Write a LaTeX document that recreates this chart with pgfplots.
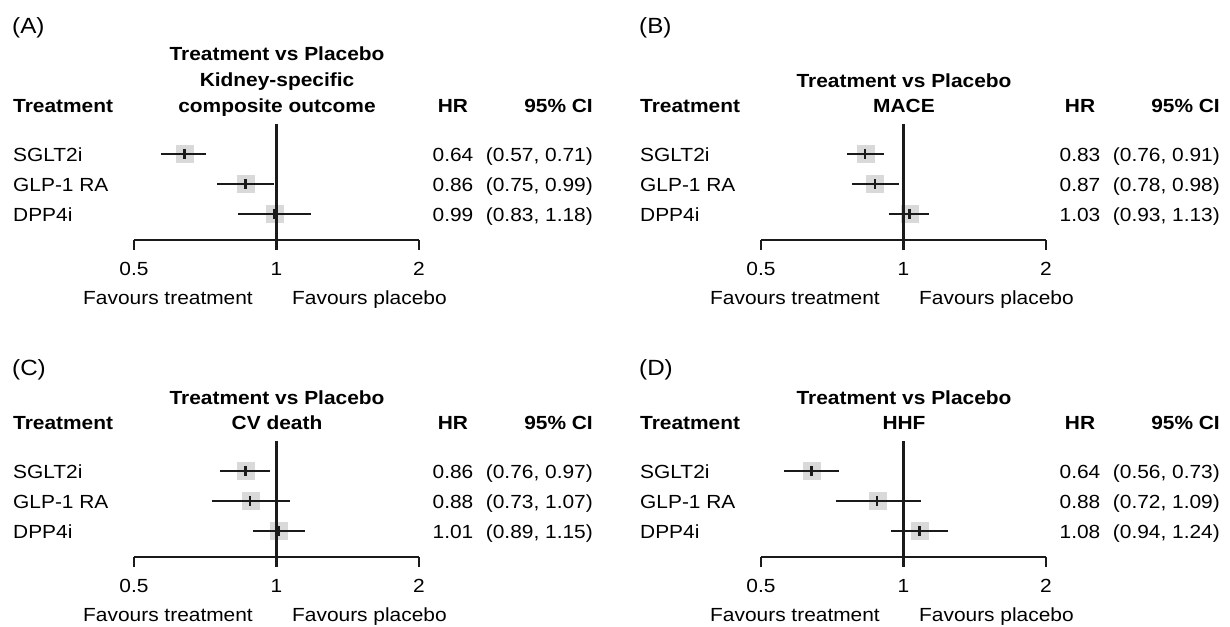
\documentclass[border=0pt]{standalone}
\usepackage{fontspec}
\setmainfont{Liberation Sans}[FakeStretch=1.1]
\usepackage{pgfplots}
\pgfplotsset{compat=1.18}
\definecolor{boxgray}{RGB}{217,217,217}
\definecolor{ink}{RGB}{26,26,26}

\newcommand\fpbegin[1]{%
\begin{axis}[
    xmode=log, log basis x=2, xmin=0.5, xmax=2, ymin=0, ymax=116,
    scale only axis, width=285bp, height=116bp, anchor=south west,
    at={#1},
    axis x line=bottom, hide y axis, clip=false, clip marker paths=true,
    x axis line style={-, line width=2.5bp, draw=ink},
    xtick={0.5,1,2}, xticklabels={0.5,1,2},
    minor xtick={},
    tick align=outside, major tick length=10bp,
    tick style={line width=2.5bp, draw=ink},
    xticklabel style={anchor=base, yshift=-25bp, inner sep=0pt},
  ]}
\newcommand\sq[1]{\addplot[only marks, mark=square*, mark size=8.5bp, mark options={solid, draw=boxgray, fill=boxgray, line width=0.1bp}] coordinates {#1};}
\newcommand\ctick[1]{\addplot[only marks, mark=|, mark size=5bp, mark options={solid, draw=ink, line width=2.5bp}] coordinates {#1};}
\newcommand\ci[3]{\addplot[solid, draw=ink, line width=2.9bp, mark=none] coordinates {(#1,#3) (#2,#3)};}
\newcommand\refline{\addplot[solid, draw=ink, line width=2.5bp, mark=none] coordinates {(1,0) (1,116)};}
\newcommand\rowtext[4]{%
  \node[anchor=base west] at (13,#1+7) {#2};
  \node[anchor=base] at (453,#1+7) {#3};
  \node[anchor=base east] at (593,#1+7) {#4};
}
\newcommand\headers{%
  \node[anchor=base west, font=\bfseries] at (13,112) {Treatment};
  \node[anchor=base, font=\bfseries] at (453,112) {HR};
  \node[anchor=base east, font=\bfseries] at (593,112) {95\% CI};
  \node[anchor=base east] at (253,304) {Favours treatment};
  \node[anchor=base west] at (292,304) {Favours placebo};
}
\newcommand\plabel[2]{\node[anchor=base west, font=\fontsize{22bp}{26bp}\selectfont] at (12,#1) {#2};}

\begin{document}
\fontsize{19bp}{23bp}\selectfont
\begin{tikzpicture}
\useasboundingbox (0,0) rectangle (1230bp,-627bp);

% ---------- Panel A ----------
\begin{scope}[x=1bp, y=-1bp, every node/.style={inner sep=0pt}]
  \plabel{33}{(A)}
  \node[anchor=base, font=\bfseries] at (277,60) {Treatment vs Placebo};
  \node[anchor=base, font=\bfseries] at (277,86) {Kidney-specific};
  \node[anchor=base, font=\bfseries] at (277,112) {composite outcome};
  \headers
  \rowtext{154}{SGLT2i}{0.64}{(0.57, 0.71)}
  \rowtext{184}{GLP-1 RA}{0.86}{(0.75, 0.99)}
  \rowtext{214}{DPP4i}{0.99}{(0.83, 1.18)}
\end{scope}
\fpbegin{(134bp,-240bp)}
  \sq{(0.64,86) (0.86,56) (0.99,26)}
  \ci{0.57}{0.71}{86}
  \ci{0.75}{0.99}{56}
  \ci{0.83}{1.18}{26}
  \refline
  \ctick{(0.64,86) (0.86,56) (0.99,26)}
\end{axis}

% ---------- Panel B ----------
\begin{scope}[x=1bp, y=-1bp, xshift=627bp, every node/.style={inner sep=0pt}]
  \plabel{33}{(B)}
  \node[anchor=base, font=\bfseries] at (277,87) {Treatment vs Placebo};
  \node[anchor=base, font=\bfseries] at (277,112) {MACE};
  \headers
  \rowtext{154}{SGLT2i}{0.83}{(0.76, 0.91)}
  \rowtext{184}{GLP-1 RA}{0.87}{(0.78, 0.98)}
  \rowtext{214}{DPP4i}{1.03}{(0.93, 1.13)}
\end{scope}
\fpbegin{(761bp,-240bp)}
  \sq{(0.83,86) (0.87,56) (1.03,26)}
  \ci{0.76}{0.91}{86}
  \ci{0.78}{0.98}{56}
  \ci{0.93}{1.13}{26}
  \refline
  \ctick{(0.83,86) (0.87,56) (1.03,26)}
\end{axis}

% ---------- Panel C ----------
\begin{scope}[x=1bp, y=-1bp, yshift=-317bp, every node/.style={inner sep=0pt}]
  \plabel{58}{(C)}
  \node[anchor=base, font=\bfseries] at (277,87) {Treatment vs Placebo};
  \node[anchor=base, font=\bfseries] at (277,112) {CV death};
  \headers
  \rowtext{154}{SGLT2i}{0.86}{(0.76, 0.97)}
  \rowtext{184}{GLP-1 RA}{0.88}{(0.73, 1.07)}
  \rowtext{214}{DPP4i}{1.01}{(0.89, 1.15)}
\end{scope}
\fpbegin{(134bp,-557bp)}
  \sq{(0.86,86) (0.88,56) (1.01,26)}
  \ci{0.76}{0.97}{86}
  \ci{0.73}{1.07}{56}
  \ci{0.89}{1.15}{26}
  \refline
  \ctick{(0.86,86) (0.88,56) (1.01,26)}
\end{axis}

% ---------- Panel D ----------
\begin{scope}[x=1bp, y=-1bp, xshift=627bp, yshift=-317bp, every node/.style={inner sep=0pt}]
  \plabel{58}{(D)}
  \node[anchor=base, font=\bfseries] at (277,87) {Treatment vs Placebo};
  \node[anchor=base, font=\bfseries] at (277,112) {HHF};
  \headers
  \rowtext{154}{SGLT2i}{0.64}{(0.56, 0.73)}
  \rowtext{184}{GLP-1 RA}{0.88}{(0.72, 1.09)}
  \rowtext{214}{DPP4i}{1.08}{(0.94, 1.24)}
\end{scope}
\fpbegin{(761bp,-557bp)}
  \sq{(0.64,86) (0.88,56) (1.08,26)}
  \ci{0.56}{0.73}{86}
  \ci{0.72}{1.09}{56}
  \ci{0.94}{1.24}{26}
  \refline
  \ctick{(0.64,86) (0.88,56) (1.08,26)}
\end{axis}
\end{tikzpicture}
\end{document}
